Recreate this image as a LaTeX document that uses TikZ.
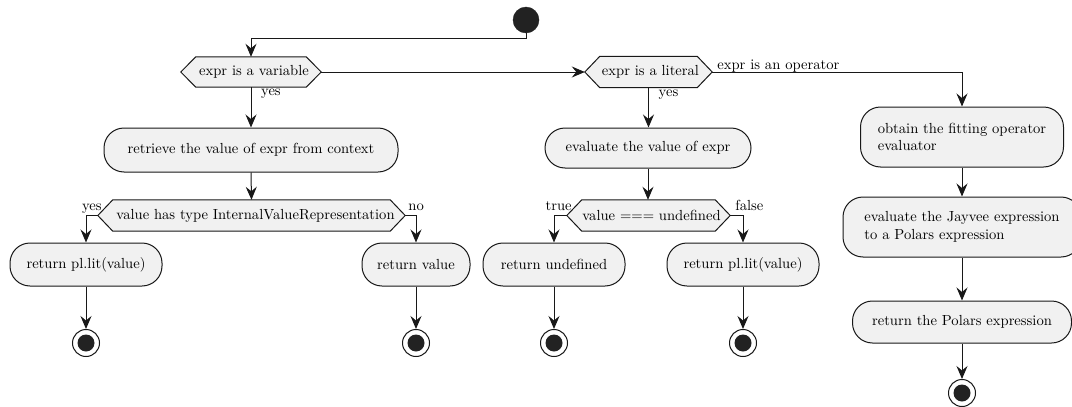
\documentclass[tikz,border=0pt]{standalone}
\usepackage{fontspec}
\setmainfont{lmroman10-regular.otf}
\usetikzlibrary{arrows.meta,backgrounds,calc}
\definecolor{boxfill}{HTML}{F1F1F1}
\definecolor{ink}{HTML}{181818}
\definecolor{dot}{HTML}{222222}
\begin{document}
\begin{tikzpicture}[x=1pt,y=-1pt,
  every node/.style={font=\fontsize{14.6}{17.5}\selectfont, text=black},
  action/.style={draw=ink, fill=boxfill, line width=1pt, rounded corners=20pt, inner sep=0pt, align=left},
  decision/.style={inner sep=0pt},
  hexshape/.style={draw=ink, fill=boxfill, line width=1pt},
  flow/.style={draw=ink, line width=1pt, -{Stealth[length=13pt,width=11pt,inset=4.5pt]}},
  lbl/.style={inner sep=0pt},
  startdot/.style={circle, fill=dot, draw=dot, minimum size=26pt, inner sep=0pt},
  enddot/.style={circle, draw=ink, fill=white, line width=1pt, minimum size=27pt, inner sep=0pt,
    path picture={\fill[dot] (path picture bounding box.center) circle (8.5pt);}},
]
\useasboundingbox (0,0) rectangle (1072,407);

% start and decisions
\node[startdot] (start) at (526,20) {};
\node[decision, minimum width=140pt, minimum height=30pt] (d1) at (251,72) {\hspace*{6pt}expr is a variable};
\node[decision, minimum width=127pt, minimum height=31pt] (d2) at (648.5,72) {\hspace*{4pt}expr is a literal};

% variable branch
\node[action, minimum width=294pt, minimum height=44pt] (a1) at (251,150) {retrieve the value of expr from context};
\node[decision, minimum width=307pt, minimum height=31pt] (d3) at (251.5,215.5) {\hspace*{8pt}value has type InternalValueRepresentation};
\node[action, minimum width=152pt, minimum height=43pt] (r1) at (86,264.5) {return pl.lit(value)};
\node[action, minimum width=108pt, minimum height=43pt] (r2) at (416,264.5) {return value};

% literal branch
\node[action, minimum width=206pt, minimum height=40pt] (a2) at (648,148) {evaluate the value of expr};
\node[decision, minimum width=163pt, minimum height=31pt] (d4) at (648.5,215.5) {\hspace*{6pt}value === undefined};
\node[action, minimum width=142pt, minimum height=43pt] (r3) at (554,264.5) {return undefined};
\node[action, minimum width=152pt, minimum height=43pt] (r4) at (743,264.5) {return pl.lit(value)};

% operator branch
\node[action, minimum width=203pt, minimum height=60pt] (a3) at (962,137) {obtain the fitting operator\\evaluator};
\node[action, minimum width=238pt, minimum height=60pt] (a4) at (962,227) {evaluate the Jayvee expression\\to a Polars expression};
\node[action, minimum width=219pt, minimum height=42pt] (a5) at (962,322) {return the Polars expression};

% end points
\node[enddot] (e1) at (86,343) {};
\node[enddot] (e2) at (416,343) {};
\node[enddot] (e3) at (554,343) {};
\node[enddot] (e4) at (743,343) {};
\node[enddot] (e5) at (962,393) {};

% hexagon outlines behind the decision texts
\begin{scope}[on background layer]
  \fill[white] (0,0) rectangle (1072,407);
  \foreach \n in {d1,d2,d3,d4}
    \draw[hexshape] (\n.west) -- ([xshift=15pt]\n.north west) -- ([xshift=-15pt]\n.north east)
      -- (\n.east) -- ([xshift=-15pt]\n.south east) -- ([xshift=15pt]\n.south west) -- cycle;
\end{scope}

% branch labels
\node[lbl, anchor=north west] (l1) at ([xshift=10pt,yshift=-2pt]d1.south) {yes};
\node[lbl, anchor=north west] (l2) at ([xshift=10pt,yshift=-2pt]d2.south) {yes};
\node[lbl, anchor=base west] (l3) at ([xshift=5pt,yshift=3pt]d2.east) {expr is an operator};
\node[lbl, anchor=base east] (l4) at ([xshift=4pt,yshift=5pt]d3.west) {yes};
\node[lbl, anchor=base west] (l5) at ([xshift=3pt,yshift=5pt]d3.east) {no};
\node[lbl, anchor=base east] (l6) at ([xshift=5pt,yshift=5pt]d4.west) {true};
\node[lbl, anchor=base west] (l7) at ([xshift=5pt,yshift=5pt]d4.east) {false};

% connectors
\draw[flow] (start.south) -- ++(0,5) -| (d1.north);
\draw[flow] (d1.east) -- (d2.west);
\draw[flow] (d1.south) -- (a1.north);
\draw[flow] (a1.south) -- (d3.north);
\draw[flow] (d3.west) -| (r1.north);
\draw[flow] (d3.east) -| (r2.north);
\draw[flow] (r1.south) -- (e1.north);
\draw[flow] (r2.south) -- (e2.north);
\draw[flow] (d2.south) -- (d2.south |- a2.north);
\draw[flow] (a2.south) -- (a2.south |- d4.north);
\draw[flow] (d4.west) -| (r3.north);
\draw[flow] (d4.east) -| (r4.north);
\draw[flow] (r3.south) -- (e3.north);
\draw[flow] (r4.south) -- (e4.north);
\draw[flow] (d2.east) -| (a3.north);
\draw[flow] (a3.south) -- (a4.north);
\draw[flow] (a4.south) -- (a5.north);
\draw[flow] (a5.south) -- (e5.north);
\end{tikzpicture}
\end{document}
